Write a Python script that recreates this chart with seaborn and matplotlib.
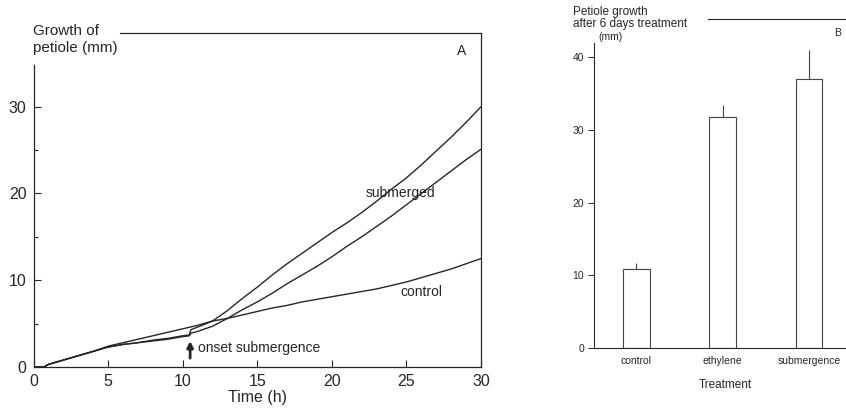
import numpy as np
import pandas as pd
import matplotlib
matplotlib.use('Agg')
import matplotlib.pyplot as plt
import seaborn as sns

# panel A: petiole growth over time
hora = [0, 0.7, 1, 2, 3, 4, 5, 6, 7, 8, 9, 10, 10.45, 10.55, 11, 12, 13, 14, 15,
        16, 17, 18, 19, 20, 21, 22, 23, 24, 25, 26, 27, 28, 29, 30]
sumergida_a = [0, 0, 0.3, 0.8, 1.3, 1.8, 2.3, 2.6, 2.8, 3.1, 3.3, 3.6, 3.7, 4.3, 4.6,
               5.3, 6.5, 7.9, 9.2, 10.6, 11.9, 13.1, 14.3, 15.5, 16.6, 17.8, 19.1,
               20.5, 21.8, 23.3, 24.9, 26.5, 28.2, 30.0]
sumergida_b = [0, 0, 0.3, 0.8, 1.3, 1.8, 2.3, 2.6, 2.8, 3.0, 3.2, 3.5, 3.6, 3.9, 4.1,
               4.7, 5.6, 6.6, 7.5, 8.5, 9.6, 10.6, 11.6, 12.7, 13.9, 15.0, 16.2,
               17.4, 18.7, 20.0, 21.3, 22.6, 23.9, 25.1]
hora_control = [0, 0.7, 1, 2, 3, 4, 5, 6, 7, 8, 9, 10, 11, 12, 13, 14, 15, 16, 17,
                18, 19, 20, 21, 22, 23, 24, 25, 26, 27, 28, 29, 30]
control = [0, 0, 0.3, 0.8, 1.3, 1.8, 2.4, 2.8, 3.2, 3.6, 4.0, 4.4, 4.8, 5.3, 5.6, 6.0,
           6.4, 6.8, 7.1, 7.5, 7.8, 8.1, 8.4, 8.7, 9.0, 9.4, 9.8, 10.3, 10.8, 11.3,
           11.9, 12.5]

# panel B: growth after 6 days
tratamientos = ['control', 'ethylene', 'submergence']
crecimiento = [10.9, 31.8, 37.0]
error = [0.8, 1.6, 4.0]

sns.set_style('white')
plt.rcParams['font.family'] = ['Liberation Sans', 'DejaVu Sans']
tinta = '#262626'

W, H = 846, 408
fig = plt.figure(figsize=(W / 100, H / 100), dpi=100)

# ---- panel A ----
ax1 = fig.add_axes([33.5 / W, 41 / H, (481 - 33.5) / W, (367 - 33) / H])
df_a = pd.concat([
    pd.DataFrame({'t': hora, 'g': sumergida_a, 's': 'sub_a'}),
    pd.DataFrame({'t': hora, 'g': sumergida_b, 's': 'sub_b'}),
    pd.DataFrame({'t': hora_control, 'g': control, 's': 'control'}),
])
sns.lineplot(data=df_a, x='t', y='g', hue='s', palette=[tinta] * 3, legend=False,
             estimator=None, sort=False, linewidth=1.0, ax=ax1)
ax1.set_xlim(0, 30)
ax1.set_ylim(0, 38.5)
ax1.set_xticks([0, 5, 10, 15, 20, 25, 30])
ax1.set_yticks([0, 10, 20, 30])
ax1.set_yticks([5, 15, 25], minor=True)
ax1.tick_params(axis='both', which='major', direction='in', length=5, width=0.8,
                labelsize=11.5, colors=tinta, pad=5, left=True, bottom=True)
ax1.tick_params(axis='y', which='minor', direction='in', length=3, width=0.8,
                colors=tinta, left=True)
for lado in ['left', 'bottom', 'top', 'right']:
    ax1.spines[lado].set_color(tinta)
    ax1.spines[lado].set_linewidth(0.9)
ax1.spines['left'].set_bounds(0, 34.8)
ax1.spines['top'].set_bounds(5.8, 30)
ax1.set_xlabel('Time (h)', fontsize=11.5, color=tinta, labelpad=1)
ax1.set_ylabel('')
fig.text(33 / W, 1 - 24 / H, 'Growth of\npetiole (mm)', fontsize=11, color=tinta,
         va='top', ha='left', linespacing=1.25)
ax1.text(28.7, 36.4, 'A', fontsize=10, color=tinta, ha='center', va='center')
ax1.text(22.3, 20.0, 'submerged', fontsize=10, color=tinta, ha='left', va='center')
ax1.text(24.6, 8.6, 'control', fontsize=10, color=tinta, ha='left', va='center')
ax1.annotate('', xy=(10.5, 3.3), xytext=(10.5, 0.7),
             arrowprops=dict(arrowstyle='-|>,head_length=0.35,head_width=0.18',
                             color=tinta, lw=2.0))
ax1.text(11.0, 2.2, 'onset submergence', fontsize=10, color=tinta, ha='left',
         va='center')

# ---- panel B ----
ax2 = fig.add_axes([594 / W, 60 / H, (3.04 * 86.3) / W, (348 - 19) / H])
df_b = pd.DataFrame({'tratamiento': tratamientos, 'crecimiento': crecimiento})
sns.barplot(data=df_b, x='tratamiento', y='crecimiento', color='white',
            edgecolor='#444444', linewidth=0.8, width=0.31, errorbar=None, ax=ax2)
ax2.vlines(range(len(tratamientos)), crecimiento,
           np.array(crecimiento) + np.array(error), color='#444444', lw=0.8)
ax2.set_xlim(-0.49, 2.55)
ax2.set_ylim(0, 45.25)
ax2.set_yticks([0, 10, 20, 30, 40])
ax2.tick_params(axis='y', direction='out', length=4, width=0.7, labelsize=7.5,
                colors=tinta, left=True, pad=3)
ax2.tick_params(axis='x', length=0, labelsize=7.5, colors=tinta, pad=6)
for lado in ['left', 'bottom', 'top', 'right']:
    ax2.spines[lado].set_color(tinta)
    ax2.spines[lado].set_linewidth(0.8)
ax2.spines['left'].set_bounds(0, 42)
ax2.spines['top'].set_bounds(0.83, 2.55)
ax2.set_xlabel('Treatment', fontsize=8.5, color=tinta, labelpad=9)
ax2.set_ylabel('')
fig.text(573 / W, 1 - 6 / H, 'Petiole growth\nafter 6 days treatment', fontsize=8.5,
         color=tinta, va='top', ha='left', linespacing=1.05)
fig.text(598 / W, 1 - 37 / H, '(mm)', fontsize=7.5, color=tinta, va='center',
         ha='left')
ax2.text(2.33, 43.3, 'B', fontsize=7.5, color=tinta, ha='center', va='center')

fig.savefig('out.png', dpi=100)
